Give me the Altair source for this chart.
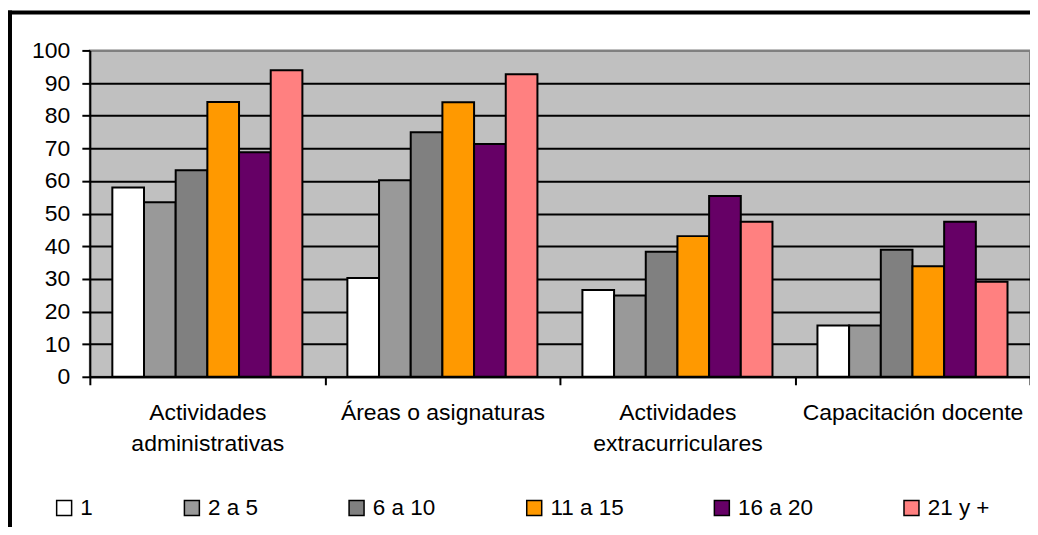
import altair as alt
import pandas as pd

categories = ["Actividades administrativas", "Áreas o asignaturas",
              "Actividades extracurriculares", "Capacitación docente"]
series = ["1", "2 a 5", "6 a 10", "11 a 15", "16 a 20", "21 y +"]
colors = ["#FFFFFF", "#999999", "#808080", "#FF9900", "#660066", "#FF8080"]

v_1 = [58.0, 30.3, 26.6, 15.7]
v_2a5 = [53.5, 60.2, 24.9, 15.7]
v_6a10 = [63.3, 74.9, 38.3, 38.9]
v_11a15 = [84.2, 84.1, 43.1, 33.9]
v_16a20 = [68.8, 71.3, 55.4, 47.5]
v_21 = [93.9, 92.7, 47.5, 29.1]

values = [v_1, v_2a5, v_6a10, v_11a15, v_16a20, v_21]
rows = []
for s, vals in zip(series, values):
    for c, v in zip(categories, vals):
        rows.append({"categoria": c, "serie": s, "valor": v})
df = pd.DataFrame(rows)

FONT = "Liberation Sans"
FS = 23

bars = alt.Chart(df).mark_bar(stroke="black", strokeWidth=2).encode(
    x=alt.X("categoria:N", sort=categories,
            scale=alt.Scale(paddingInner=0, paddingOuter=0),
            axis=alt.Axis(title=None, labelAngle=0, tickBand="extent",
                          labelExpr="indexof(datum.label,'Actividades')==0 ? split(datum.label,' ') : datum.label",
                          labelFont=FONT, labelFontSize=FS, labelColor="black",
                          labelPadding=17, labelLineHeight=31, labelLimit=0,
                          tickSize=8, tickColor="black", tickWidth=2,
                          domainColor="black", domainWidth=2)),
    xOffset=alt.XOffset("serie:N", sort=series,
                        scale=alt.Scale(paddingInner=0, paddingOuter=0.71)),
    y=alt.Y("valor:Q", scale=alt.Scale(domain=[0, 100], nice=False),
            axis=alt.Axis(title=None, values=list(range(0, 101, 10)),
                          grid=True,
                          gridColor={"condition": {"test": "datum.value === 100", "value": "#808080"},
                                     "value": "black"},
                          gridWidth=2,
                          labelFont=FONT, labelFontSize=FS, labelColor="black",
                          labelPadding=12,
                          tickSize=8, tickColor="black", tickWidth=2,
                          domainColor="black", domainWidth=2)),
    color=alt.Color("serie:N", sort=series,
                    scale=alt.Scale(domain=series, range=colors),
                    legend=alt.Legend(title=None, orient="none", legendX=-37, legendY=447,
                                      direction="horizontal", columns=6, columnPadding=87,
                                      symbolType="square", symbolSize=225,
                                      symbolStrokeColor="black", symbolStrokeWidth=1.5,
                                      symbolOpacity=1,
                                      labelFont=FONT, labelFontSize=22.5, labelColor="black",
                                      labelOffset=5, labelLimit=0)),
)

frame_data = alt.Data(values=[{"k": 1}])
border_left = alt.Chart(frame_data).mark_rule(color="black", strokeWidth=4).encode(
    x=alt.value(-80), y=alt.value(-40), y2=alt.value(530))
border_top = alt.Chart(frame_data).mark_rule(color="black", strokeWidth=4).encode(
    x=alt.value(-82), x2=alt.value(960), y=alt.value(-38))

chart = alt.layer(bars, border_left, border_top).properties(
    width=942, height=327,
    autosize=alt.AutoSizeParams(type="none"),
    padding={"left": 82, "top": 42, "right": 0, "bottom": 150},
    background="white",
).configure_view(fill="#C0C0C0", stroke="#808080", strokeWidth=2)

chart.save("out.html", embed_options={"renderer": "svg", "actions": False})
